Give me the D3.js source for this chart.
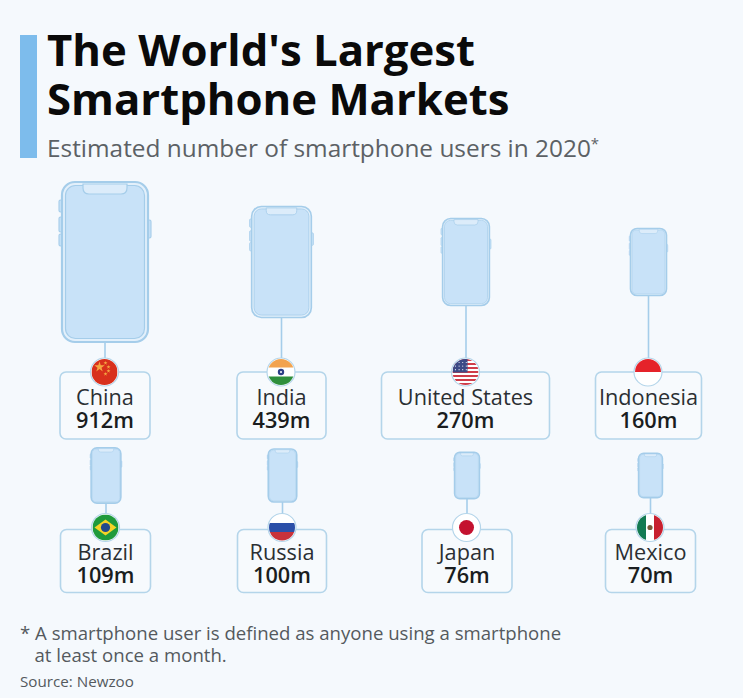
<!DOCTYPE html>
<html><head><meta charset="utf-8">
<script src="https://cdn.jsdelivr.net/npm/d3@7"></script>
<style>html,body{margin:0;padding:0;background:#f5f9fd}svg{display:block}text{font-family:"Open Sans",sans-serif}</style>
</head><body><svg id="c" width="743" height="698"></svg>
<script>
const countries=["China","India","United States","Indonesia","Brazil","Russia","Japan","Mexico"];
const users=[912,439,270,160,109,100,76,70];
const flags=["cn","in","us","id","br","ru","jp","mx"];
const rowOf=[0,0,0,0,1,1,1,1];
const phoneCx=[105,281.5,466,648.5,106,282.5,467,650.5];
const labelCx=[105,281.5,465.5,648.5,105.5,282,467,650.5];
const boxW=[90,89,168,106,90,89,90,90];
const titleLines=["The World's Largest","Smartphone Markets"];
const subtitle="Estimated number of smartphone users in 2020";
const noteLines=["* A smartphone user is defined as anyone using a smartphone","   at least once a month."];
const source="Source: Newzoo";

const svg=d3.select("#c");
const defs=svg.append("defs");
const hScale=d3.scaleSqrt().domain([0,912]).range([0,160]);
const aspect=86/160;
const rowPhoneCy=d3.scaleOrdinal().domain([0,1]).range([262,475.5]);
const rowBoxTop=d3.scaleOrdinal().domain([0,1]).range([372,529.5]);
const rowBoxH=d3.scaleOrdinal().domain([0,1]).range([67,63]);
const rowFlagY=d3.scaleOrdinal().domain([0,1]).range([372,527.5]);
const edge="#a5cdea",fill="#c8e2f8",boxEdge="#b4d5ea";

svg.append("rect").attr("x",20).attr("y",35).attr("width",17).attr("height",123).attr("fill","#7dbcec");
svg.selectAll("text.t").data(titleLines).join("text").attr("class","t")
 .attr("x",47).attr("y",(d,i)=>[66,115][i]).attr("font-size",43.7).attr("font-weight",700).attr("fill","#0a0a0a").text(d=>d);
const sub=svg.append("text").attr("x",47).attr("y",157).attr("font-size",24.4).attr("fill","#5c6165").text(subtitle);
sub.append("tspan").attr("font-size",15).attr("dy",-8).text("*");

const g=svg.selectAll("g.item").data(countries.map((c,i)=>({c,v:users[i],f:flags[i],r:rowOf[i],px:phoneCx[i],lx:labelCx[i],bw:boxW[i]})))
 .join("g").attr("class","item");

g.append("line").attr("x1",d=>d.px).attr("x2",d=>d.px)
 .attr("y1",d=>rowPhoneCy(d.r)+hScale(d.v)/2).attr("y2",d=>rowFlagY(d.r))
 .attr("stroke",edge).attr("stroke-width",1.6);

g.each(function(d){
  const s=d3.select(this),h=hScale(d.v),w=h*aspect,x=d.px-w/2,y=rowPhoneCy(d.r)-h/2,u=h/160;
  const sw=Math.max(1.6,2.2*u);
  [[-3,18,12],[-3,35,15],[-3,52,12],[w/u,38,18]].forEach(b=>{
    s.append("rect").attr("x",x+b[0]*u).attr("y",y+b[1]*u).attr("width",3*u).attr("height",b[2]*u)
     .attr("rx",1.5*u).attr("fill",fill).attr("stroke",edge).attr("stroke-width",Math.max(.5,1.1*u));
  });
  s.append("rect").attr("x",x).attr("y",y).attr("width",w).attr("height",h).attr("rx",11*u+2)
   .attr("fill","#e3f0fb").attr("stroke",edge).attr("stroke-width",sw);
  s.append("rect").attr("x",x+3.5*u).attr("y",y+3.5*u).attr("width",w-7*u).attr("height",h-7*u).attr("rx",9*u+1)
   .attr("fill",fill).attr("stroke",edge).attr("stroke-width",Math.max(.5,1.2*u));
  const nw=44*u,nx=d.px-nw/2,nt=y+2*u,nh=10*u;
  s.append("path").attr("d",`M${nx},${nt}v${nh*.4}q0,${nh*.6} ${nh*.6},${nh*.6}h${nw-1.2*nh}q${nh*.6},0 ${nh*.6},${-nh*.6}v${-nh*.4}z`)
   .attr("fill","#dcecfa").attr("stroke",edge).attr("stroke-width",Math.max(.5,1.2*u));
});

g.append("rect").attr("x",d=>d.lx-d.bw/2).attr("y",d=>rowBoxTop(d.r)).attr("width",d=>d.bw).attr("height",d=>rowBoxH(d.r))
 .attr("rx",6).attr("fill","#f7fafd").attr("stroke",boxEdge).attr("stroke-width",1.6);
g.append("text").attr("x",d=>d.lx).attr("y",d=>rowBoxTop(d.r)+(d.r?30:33)).attr("text-anchor","middle")
 .attr("font-size",21.7).attr("fill","#2b2f33").text(d=>d.c);
g.append("text").attr("x",d=>d.lx).attr("y",d=>rowBoxTop(d.r)+(d.r?53.5:56)).attr("text-anchor","middle")
 .attr("font-size",21.7).attr("font-weight",600).attr("fill","#1a1d20").text(d=>d.v+"m");

function drawFlag(s,f,id){
  const R=13;
  defs.append("clipPath").attr("id",id).append("circle").attr("r",R);
  s.append("circle").attr("r",R+1).attr("fill","#fff").attr("stroke",boxEdge).attr("stroke-width",1.2);
  const c=s.append("g").attr("clip-path",`url(#${id})`);
  const r=(x,y,w,h,col)=>c.append("rect").attr("x",x).attr("y",y).attr("width",w).attr("height",h).attr("fill",col);
  const o=(x,y,rad,col)=>c.append("circle").attr("cx",x).attr("cy",y).attr("r",rad).attr("fill",col);
  if(f==="cn"){r(-13,-13,26,26,"#d8301c");
    c.append("path").attr("d",d3.symbol(d3.symbolStar,34)()).attr("transform","translate(-5,-5)").attr("fill","#f5a742");
    [[1,-9],[4,-5],[4,-1],[1,2]].forEach(p=>c.append("path").attr("d",d3.symbol(d3.symbolStar,5)()).attr("transform",`translate(${p})`).attr("fill","#f5a742"));}
  if(f==="in"){r(-13,-13,26,26,"#fff");r(-13,-13,26,8.5,"#f2a34f");r(-13,4.5,26,8.5,"#2f8f3c");
    o(0,0,3.2,"#2d3f86");o(0,0,1,"#fff");}
  if(f==="us"){r(-13,-13,26,26,"#fff");
    d3.range(7).forEach(i=>r(-13,-13+i*4,26,2,"#cf3d4a"));
    r(-13,-13,15,13.5,"#3c4a86");
    d3.range(3).forEach(j=>d3.range(4).forEach(i=>o(-10+i*3.6,-9.5+j*3.6,.6,"#e8ecf5")));}
  if(f==="id"){r(-13,-13,26,26,"#fff");r(-13,-13,26,13,"#e5232a");}
  if(f==="br"){r(-13,-13,26,26,"#1f9a3c");
    c.append("path").attr("d","M-11,0L0,-8L11,0L0,8Z").attr("fill","#f5d327");o(0,0,4.6,"#234a8c");}
  if(f==="ru"){r(-13,-13,26,26,"#fff");r(-13,-4.5,26,9,"#2b4fa8");r(-13,4.5,26,9,"#c8323a");}
  if(f==="jp"){r(-13,-13,26,26,"#fff");o(0,0,7.5,"#c4122f");}
  if(f==="mx"){r(-13,-13,26,26,"#fff");r(-13,-13,9,26,"#137a52");r(4,-13,9,26,"#c8202f");o(0,0,2.6,"#7a5a3a");}
}
g.each(function(d,i){
  const s=d3.select(this).append("g").attr("transform",`translate(${d.px-.5},${rowFlagY(d.r)})`);
  drawFlag(s,d.f,"flag"+i);
});

svg.selectAll("text.n").data(noteLines).join("text").attr("class","n")
 .style("white-space","pre").attr("x",20).attr("y",(d,i)=>[640,662][i]).attr("font-size",18.6).attr("fill","#54595e").text(d=>d);
svg.append("text").attr("x",20).attr("y",687).attr("font-size",15.2).attr("fill","#54595e").text(source);
</script></body></html>
